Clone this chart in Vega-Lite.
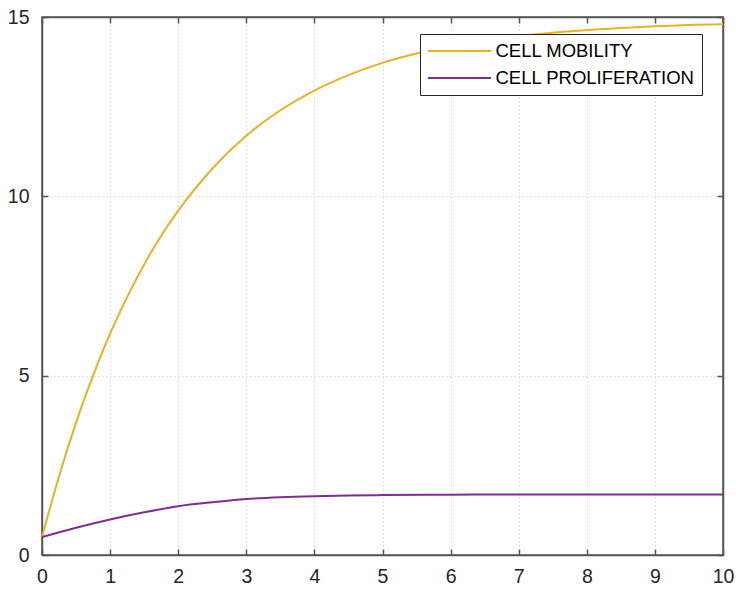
{
  "$schema": "https://vega.github.io/schema/vega-lite/v6.json",
  "width": 681,
  "height": 538,
  "autosize": {"type": "none"},
  "padding": {"left": 42, "top": 17, "right": 13, "bottom": 34},
  "background": "white",
  "config": {
    "font": "Liberation Sans",
    "view": {"stroke": "#555555", "strokeWidth": 1.5},
    "axis": {
      "domainColor": "#555555",
      "domainWidth": 1.5,
      "tickColor": "#555555",
      "tickWidth": 1.5,
      "tickSize": -6,
      "labelFont": "Liberation Sans",
      "labelFontSize": 19.5,
      "labelColor": "#262626",
      "gridColor": "#c4c4c4",
      "gridDash": [1, 3],
      "gridWidth": 1,
      "title": null
    }
  },
  "data": {
    "values": [
      {"t": 0, "value": 0.5, "series": "CELL MOBILITY"},
      {"t": 0.25, "value": 2.19, "series": "CELL MOBILITY"},
      {"t": 0.5, "value": 3.69, "series": "CELL MOBILITY"},
      {"t": 0.75, "value": 5.0, "series": "CELL MOBILITY"},
      {"t": 1, "value": 6.17, "series": "CELL MOBILITY"},
      {"t": 1.25, "value": 7.19, "series": "CELL MOBILITY"},
      {"t": 1.5, "value": 8.1, "series": "CELL MOBILITY"},
      {"t": 1.75, "value": 8.9, "series": "CELL MOBILITY"},
      {"t": 2, "value": 9.6, "series": "CELL MOBILITY"},
      {"t": 2.5, "value": 10.77, "series": "CELL MOBILITY"},
      {"t": 3, "value": 11.69, "series": "CELL MOBILITY"},
      {"t": 3.5, "value": 12.4, "series": "CELL MOBILITY"},
      {"t": 4, "value": 12.95, "series": "CELL MOBILITY"},
      {"t": 4.5, "value": 13.38, "series": "CELL MOBILITY"},
      {"t": 5, "value": 13.72, "series": "CELL MOBILITY"},
      {"t": 5.5, "value": 13.98, "series": "CELL MOBILITY"},
      {"t": 6, "value": 14.18, "series": "CELL MOBILITY"},
      {"t": 6.5, "value": 14.34, "series": "CELL MOBILITY"},
      {"t": 7, "value": 14.47, "series": "CELL MOBILITY"},
      {"t": 7.5, "value": 14.56, "series": "CELL MOBILITY"},
      {"t": 8, "value": 14.64, "series": "CELL MOBILITY"},
      {"t": 8.5, "value": 14.69, "series": "CELL MOBILITY"},
      {"t": 9, "value": 14.74, "series": "CELL MOBILITY"},
      {"t": 9.5, "value": 14.78, "series": "CELL MOBILITY"},
      {"t": 10, "value": 14.8, "series": "CELL MOBILITY"},
      {"t": 0, "value": 0.5, "series": "CELL PROLIFERATION"},
      {"t": 0.5, "value": 0.76, "series": "CELL PROLIFERATION"},
      {"t": 1, "value": 0.99, "series": "CELL PROLIFERATION"},
      {"t": 1.5, "value": 1.19, "series": "CELL PROLIFERATION"},
      {"t": 2, "value": 1.36, "series": "CELL PROLIFERATION"},
      {"t": 2.5, "value": 1.47, "series": "CELL PROLIFERATION"},
      {"t": 3, "value": 1.56, "series": "CELL PROLIFERATION"},
      {"t": 3.5, "value": 1.61, "series": "CELL PROLIFERATION"},
      {"t": 4, "value": 1.64, "series": "CELL PROLIFERATION"},
      {"t": 4.5, "value": 1.66, "series": "CELL PROLIFERATION"},
      {"t": 5, "value": 1.67, "series": "CELL PROLIFERATION"},
      {"t": 6, "value": 1.68, "series": "CELL PROLIFERATION"},
      {"t": 7, "value": 1.69, "series": "CELL PROLIFERATION"},
      {"t": 8, "value": 1.69, "series": "CELL PROLIFERATION"},
      {"t": 9, "value": 1.69, "series": "CELL PROLIFERATION"},
      {"t": 10, "value": 1.69, "series": "CELL PROLIFERATION"}
    ]
  },
  "layer": [
    {
      "mark": {"type": "line", "strokeWidth": 2, "interpolate": "monotone"},
      "encoding": {
        "x": {
          "field": "t", "type": "quantitative",
          "scale": {"domain": [0, 10], "nice": false},
          "axis": {"orient": "bottom", "values": [0,1,2,3,4,5,6,7,8,9,10], "grid": true, "labelPadding": 18, "labelFlush": false}
        },
        "y": {
          "field": "value", "type": "quantitative",
          "scale": {"domain": [0, 15], "nice": false},
          "axis": {"orient": "left", "values": [0,5,10,15], "grid": true, "labelPadding": 19}
        },
        "color": {
          "field": "series", "type": "nominal",
          "scale": {"domain": ["CELL MOBILITY", "CELL PROLIFERATION"], "range": ["#EDB120", "#7E2F8E"]},
          "legend": {
            "title": null,
            "orient": "none",
            "legendX": 378,
            "legendY": 17,
            "fillColor": "white",
            "strokeColor": "#262626",
            "padding": 7,
            "symbolType": "M-3.5,0H3.5",
            "symbolSize": 324,
            "symbolStrokeWidth": 2,
            "symbolOffset": 22.5,
            "labelFont": "Liberation Sans",
            "labelFontSize": 18.5,
            "labelLimit": 400,
            "labelColor": "#000000",
            "labelOffset": 26,
            "rowPadding": 7
          }
        }
      }
    },
    {
      "mark": {"type": "line", "opacity": 0},
      "encoding": {
        "x": {
          "field": "t", "type": "quantitative",
          "axis": {"orient": "top", "values": [0,1,2,3,4,5,6,7,8,9,10], "labels": false, "grid": false}
        },
        "y": {
          "field": "value", "type": "quantitative",
          "axis": {"orient": "right", "values": [0,5,10,15], "labels": false, "grid": false}
        },
        "detail": {"field": "series"}
      }
    }
  ],
  "resolve": {"axis": {"x": "independent", "y": "independent"}}
}
